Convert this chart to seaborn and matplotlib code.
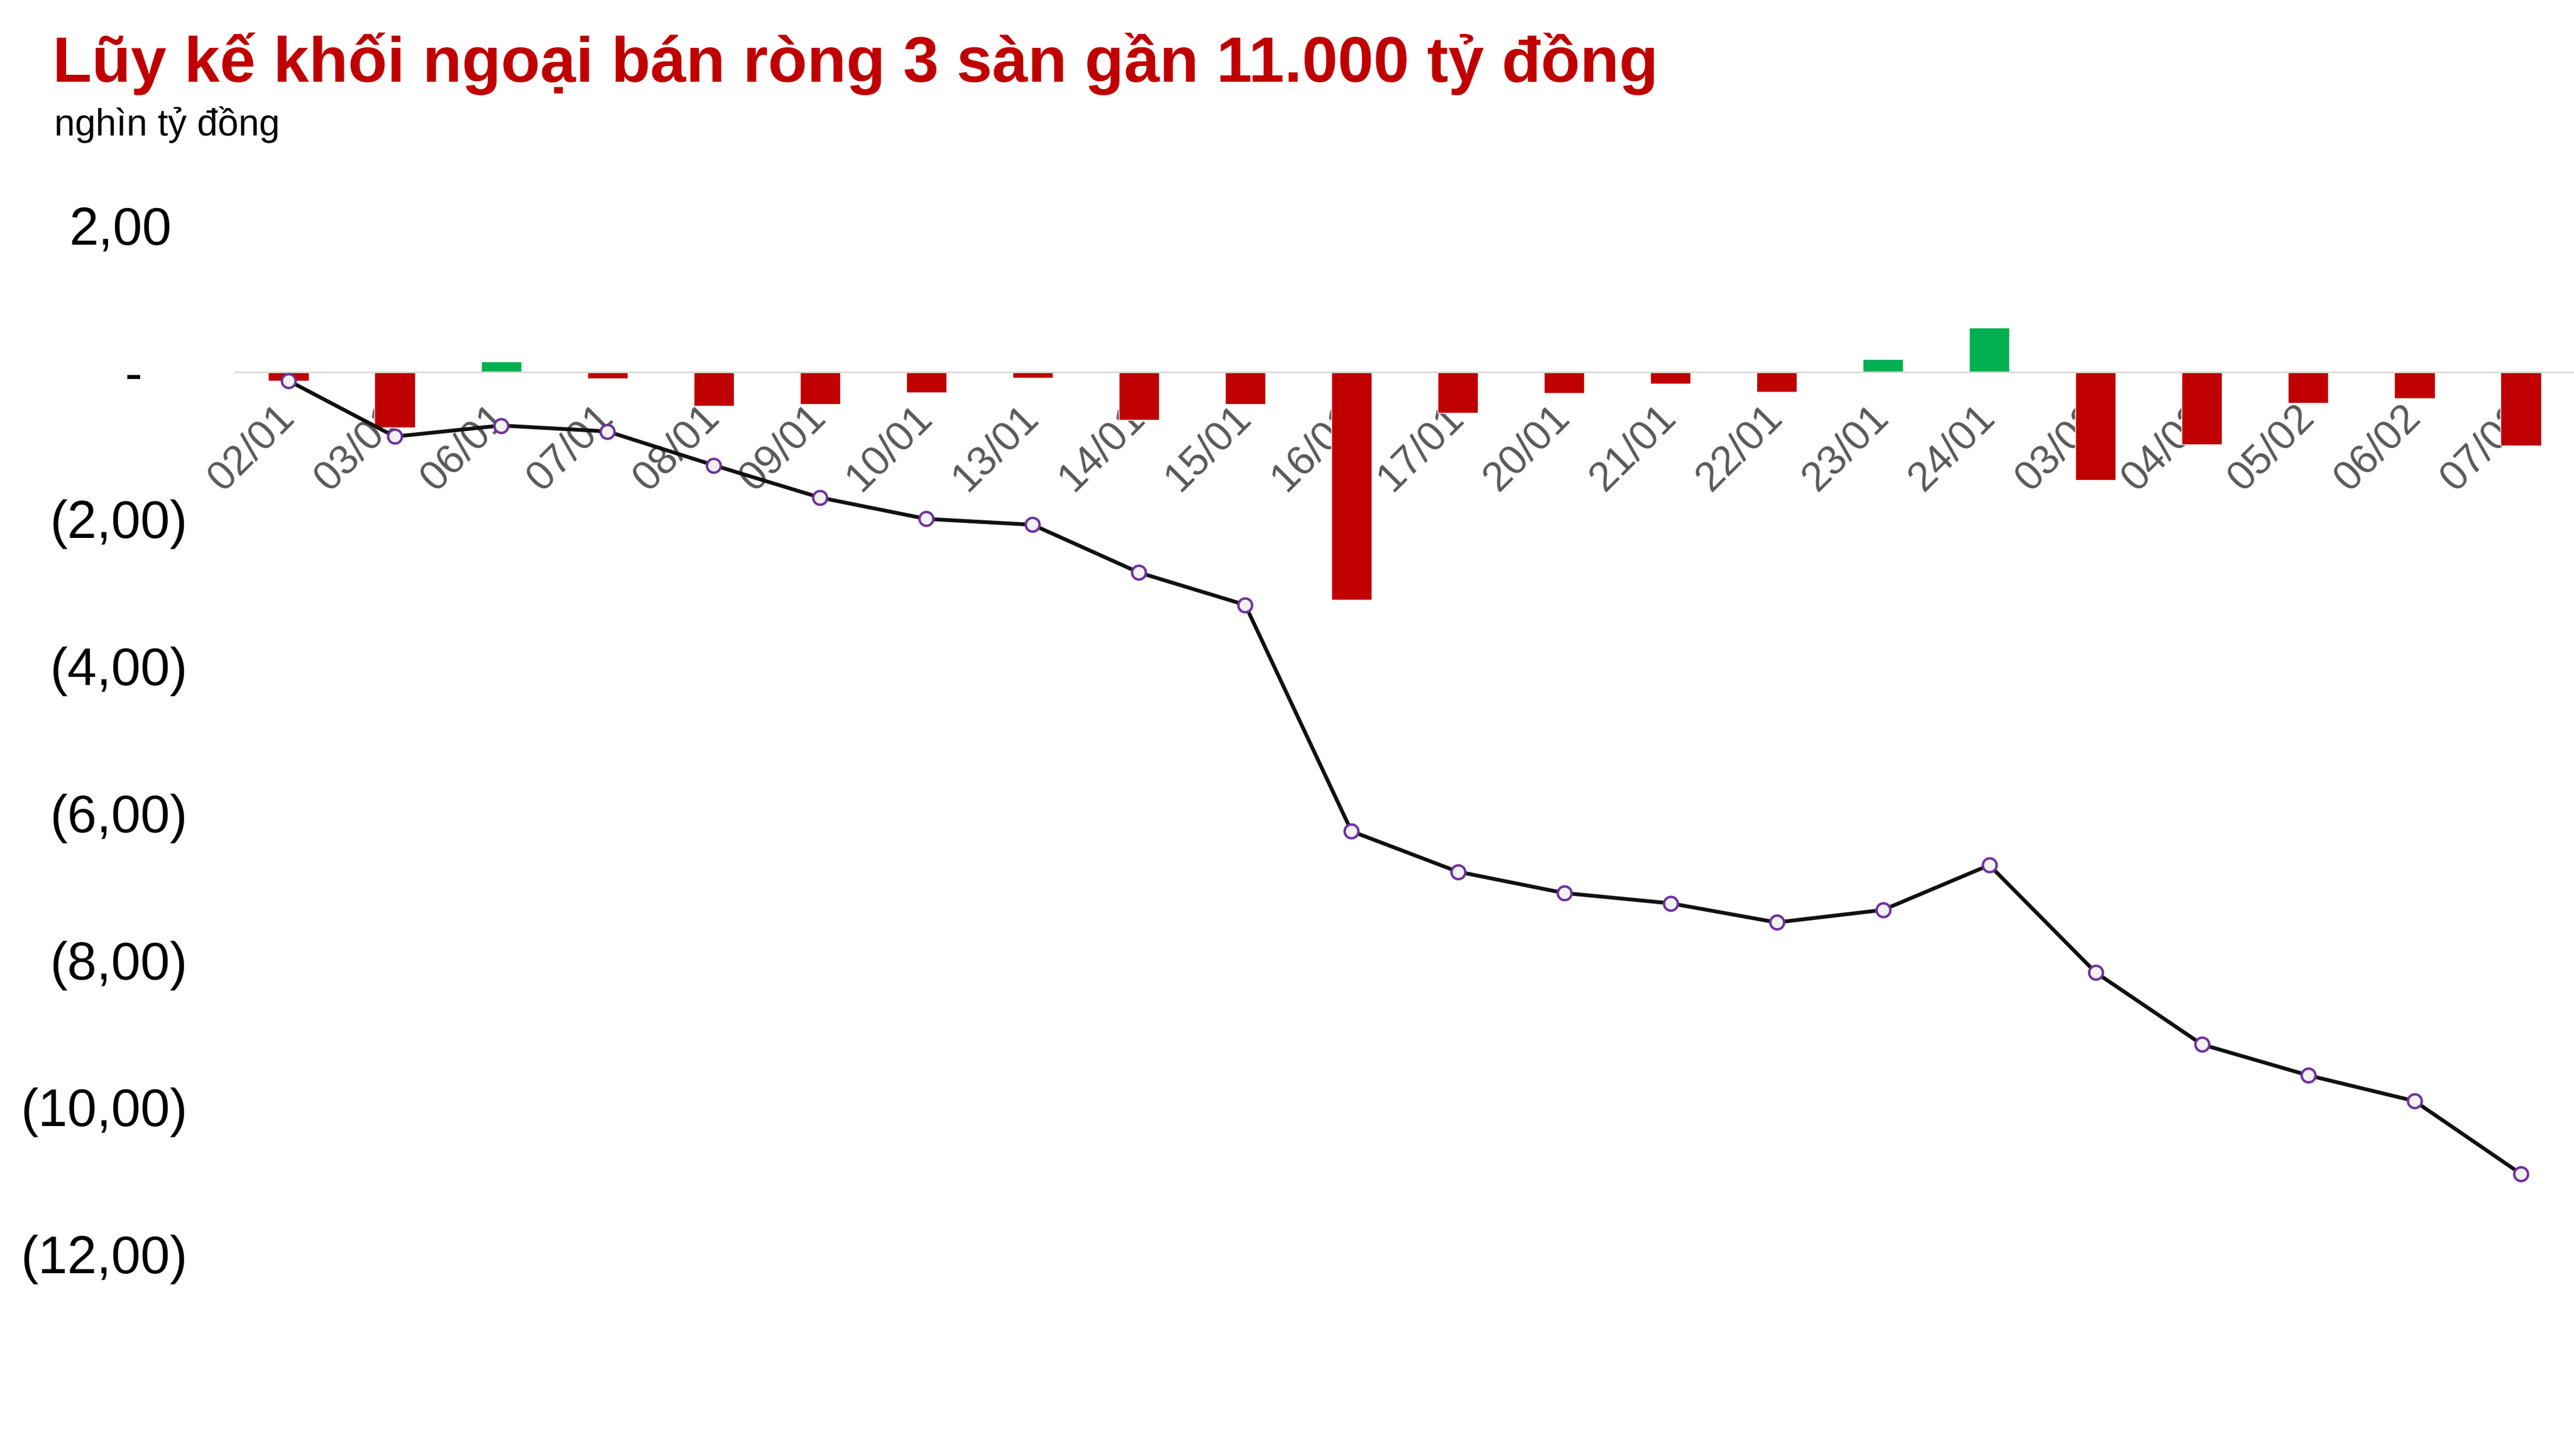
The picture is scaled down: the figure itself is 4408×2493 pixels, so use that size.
import numpy as np
import pandas as pd
import matplotlib
matplotlib.use("Agg")
import matplotlib.pyplot as plt
import matplotlib.transforms as mtransforms
import seaborn as sns

# ---- data (nghìn tỷ đồng) ----
dates = ["02/01", "03/01", "06/01", "07/01", "08/01", "09/01", "10/01", "13/01",
         "14/01", "15/01", "16/01", "17/01", "20/01", "21/01", "22/01", "23/01",
         "24/01", "03/02", "04/02", "05/02", "06/02", "07/02"]
daily_net = [-0.12, -0.76, 0.14, -0.09, -0.46, -0.44, -0.28, -0.08,
             -0.65, -0.44, -3.10, -0.56, -0.29, -0.16, -0.27, 0.17,
             0.60, -1.47, -0.99, -0.42, -0.36, -1.00]
cumulative = [-0.12, -0.88, -0.73, -0.81, -1.27, -1.71, -2.00, -2.08,
              -2.73, -3.17, -6.25, -6.80, -7.09, -7.23, -7.49, -7.32,
              -6.71, -8.17, -9.15, -9.57, -9.92, -10.91]
y_ticks = [2, 0, -2, -4, -6, -8, -10, -12]
y_labels = ["2,00", "-", "(2,00)", "(4,00)", "(6,00)", "(8,00)", "(10,00)", "(12,00)"]

title = "Lũy kế khối ngoại bán ròng 3 sàn gần 11.000 tỷ đồng"
subtitle = "nghìn tỷ đồng"

RED = "#C00000"
GREEN = "#00B050"

sns.set_theme(style="white")
plt.rcParams["font.family"] = ["Liberation Sans", "DejaVu Sans"]

W, H = 4408, 2493
fig = plt.figure(figsize=(W / 100, H / 100), dpi=100)
ax = fig.add_axes([403 / W, 1 - 2147 / H, 1 - 403 / W, (2147 - 385) / H])

df = pd.DataFrame({"date": dates, "net": daily_net, "cum": cumulative})
df["pos"] = np.arange(len(df))
bar_colors = [GREEN if v > 0 else RED for v in daily_net]

sns.barplot(data=df, x="date", y="net", hue="date", palette=bar_colors,
            width=0.38, legend=False, ax=ax, saturation=1, zorder=1)
sns.lineplot(data=df, x="pos", y="cum", sort=False, ax=ax, color="#111111",
             lw=4.7, marker="o", ms=17, markerfacecolor="#F2F2F2",
             markeredgecolor="#7030A0", markeredgewidth=3.0, zorder=4)
for ln in ax.lines:
    ln.set_linewidth(4.7)
    ln.set_markersize(17)
    ln.set_markeredgewidth(3.0)

ax.set_xlim(-0.5, len(dates) - 0.5)
ax.set_ylim(-12, 2)
ax.set_xlabel("")
ax.set_ylabel("")

for s in ["top", "right", "left"]:
    ax.spines[s].set_visible(False)
ax.spines["bottom"].set_position(("data", 0))
ax.spines["bottom"].set_color("#D9D9D9")
ax.spines["bottom"].set_linewidth(2.0)
ax.spines["bottom"].set_zorder(2)

ax.set_yticks(y_ticks)
ax.set_yticklabels(y_labels)
ax.tick_params(axis="y", length=0, pad=59, labelsize=65, labelcolor="black")
ax.tick_params(axis="x", length=0, pad=49, labelsize=51, labelcolor="#595959")
ax.set_xticks(range(len(dates)))
ax.set_xticklabels(dates, rotation=45, ha="right", va="center",
                   rotation_mode="anchor")

# accounting-style alignment of y labels
for lab in ax.get_yticklabels():
    t = lab.get_text()
    if t == "-":
        dx = -77
    elif not t.startswith("("):
        dx = -27
    else:
        dx = 0
    if dx:
        lab.set_transform(lab.get_transform() +
                          mtransforms.ScaledTranslation(dx / 100, 0, fig.dpi_scale_trans))

fig.text(90 / W, 1 - 140 / H, title, color=RED, fontsize=79, fontweight="bold",
         ha="left", va="baseline")
fig.text(93 / W, 1 - 232 / H, subtitle, color="black", fontsize=46,
         ha="left", va="baseline")

fig.savefig("out.png", dpi=100)
